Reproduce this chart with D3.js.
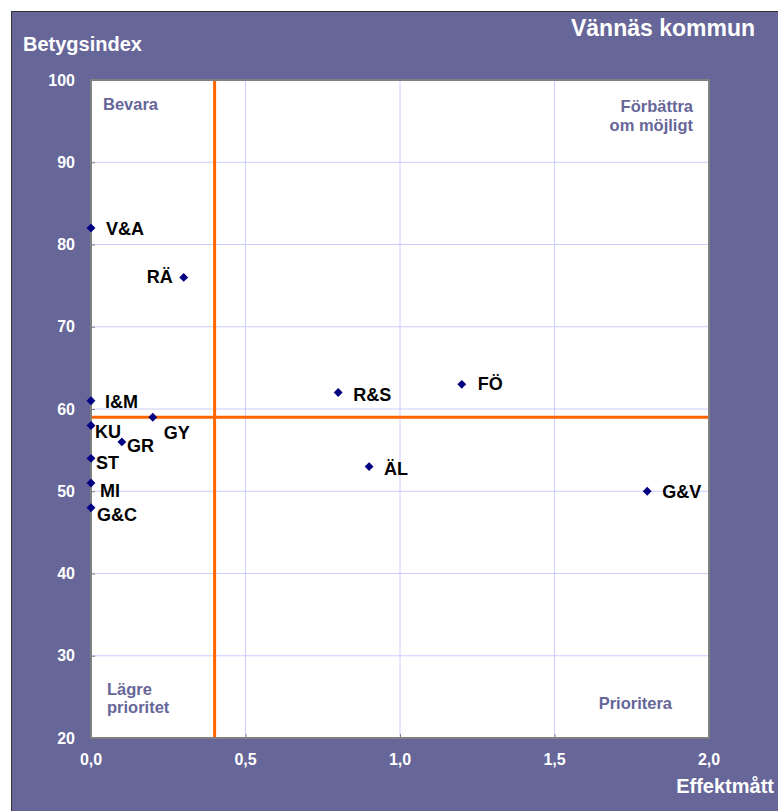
<!DOCTYPE html>
<html>
<head>
<meta charset="utf-8">
<script src="https://cdn.jsdelivr.net/npm/d3@7"></script>
<style>
  body { margin: 0; background: #fff; }
  text { font-family: "Liberation Sans", Arial, sans-serif; font-weight: bold; }
</style>
</head>
<body>
<svg id="chart" width="778" height="811"></svg>
<script>
// data
let labels = ['V&A', 'RÄ', 'I&M', 'KU', 'GY', 'GR', 'ST', 'MI', 'G&C', 'R&S', 'FÖ', 'ÄL', 'G&V'];
let effekt = [0, 0.3, 0, 0, 0.2, 0.1, 0, 0, 0, 0.8, 1.2, 0.9, 1.8];
let betyg = [82, 76, 61, 58, 59, 56, 54, 51, 48, 62, 63, 53, 50];
let xTicks = [0, 0.5, 1.0, 1.5, 2.0];
let yTicks = [20, 30, 40, 50, 60, 70, 80, 90, 100];
let xCut = 0.4;
let yCut = 59;

// label offsets (dx, dy) relative to marker
let offsets = {
  'V&A': [15, 7], 'RÄ': [-11, 6, 'end'], 'I&M': [14, 7], 'KU': [4, 13],
  'GY': [11, 22], 'GR': [5, 10], 'ST': [5, 11], 'MI': [9, 14], 'G&C': [6, 13],
  'R&S': [15, 8], 'FÖ': [16, 6], 'ÄL': [15, 8], 'G&V': [15, 7]
};

let svg = d3.select('#chart');
let purple = '#666699';

svg.append('rect')
  .attr('x', 11).attr('y', 11).attr('width', 767).attr('height', 800)
  .attr('fill', purple);
svg.append('path')
  .attr('d', 'M11.5,811 V11.5 H778')
  .attr('fill', 'none').attr('stroke', '#333').attr('stroke-width', 1);

let pLeft = 91, pRight = 709, pTop = 80, pBottom = 738;

let x = d3.scaleLinear().domain([0, 2]).range([pLeft, pRight]);
let y = d3.scaleLinear().domain([20, 100]).range([pBottom, pTop]);

svg.append('rect')
  .attr('x', pLeft).attr('y', pTop)
  .attr('width', pRight - pLeft).attr('height', pBottom - pTop)
  .attr('fill', '#fff');

//======= gridlines =======//
svg.append('g')
  .selectAll('line')
  .data(xTicks.slice(1, -1))
  .enter().append('line')
  .attr('x1', d => x(d)).attr('x2', d => x(d))
  .attr('y1', pTop).attr('y2', pBottom)
  .attr('stroke', '#ccccff').attr('stroke-width', 1);

svg.append('g')
  .selectAll('line')
  .data(yTicks.slice(1, -1))
  .enter().append('line')
  .attr('x1', pLeft).attr('x2', pRight)
  .attr('y1', d => y(d)).attr('y2', d => y(d))
  .attr('stroke', '#ccccff').attr('stroke-width', 1);

// small ticks
svg.append('g')
  .attr('transform', 'translate(' + pLeft + ',0)')
  .call(d3.axisRight(y).tickValues(yTicks).tickSize(4).tickFormat(''))
  .call(g => g.select('.domain').remove())
  .selectAll('line').attr('stroke', '#808080');

svg.append('g')
  .attr('transform', 'translate(0,' + pBottom + ')')
  .call(d3.axisTop(x).tickValues(xTicks).tickSize(4).tickFormat(''))
  .call(g => g.select('.domain').remove())
  .selectAll('line').attr('stroke', '#808080');

//======= quadrant lines =======//
svg.append('line')
  .attr('x1', x(xCut)).attr('x2', x(xCut))
  .attr('y1', pTop).attr('y2', pBottom)
  .attr('stroke', '#ff6600').attr('stroke-width', 3);
svg.append('line')
  .attr('x1', pLeft).attr('x2', pRight)
  .attr('y1', y(yCut)).attr('y2', y(yCut))
  .attr('stroke', '#ff6600').attr('stroke-width', 3);

svg.append('rect')
  .attr('x', pLeft).attr('y', pTop)
  .attr('width', pRight - pLeft).attr('height', pBottom - pTop)
  .attr('fill', 'none').attr('stroke', '#808080').attr('stroke-width', 2);

//======= tick labels =======//
let fmt = d => d3.format('.1f')(d).replace('.', ',');

svg.append('g')
  .selectAll('text')
  .data(yTicks)
  .enter().append('text')
  .attr('x', 75).attr('y', d => y(d) + 5.5)
  .attr('text-anchor', 'end')
  .attr('fill', '#fff').attr('font-size', 16)
  .text(d => d);

svg.append('g')
  .selectAll('text')
  .data(xTicks)
  .enter().append('text')
  .attr('x', d => x(d)).attr('y', 765)
  .attr('text-anchor', 'middle')
  .attr('fill', '#fff').attr('font-size', 16)
  .text(fmt);

svg.append('text').attr('x', 23).attr('y', 51)
  .attr('fill', '#fff').attr('font-size', 20).text('Betygsindex');
svg.append('text').attr('x', 774).attr('y', 793)
  .attr('text-anchor', 'end')
  .attr('fill', '#fff').attr('font-size', 20).text('Effektmått');
svg.append('text').attr('x', 755).attr('y', 36)
  .attr('text-anchor', 'end')
  .attr('fill', '#fff').attr('font-size', 23).text('Vännäs kommun');

//======= quadrant names =======//
let quad = svg.append('g').attr('fill', purple).attr('font-size', 16.5);
quad.append('text').attr('x', 103).attr('y', 110).text('Bevara');
quad.append('text').attr('x', 693).attr('y', 112).attr('text-anchor', 'end').text('Förbättra');
quad.append('text').attr('x', 693).attr('y', 131).attr('text-anchor', 'end').text('om möjligt');
quad.append('text').attr('x', 107).attr('y', 695).text('Lägre');
quad.append('text').attr('x', 107).attr('y', 713).text('prioritet');
quad.append('text').attr('x', 672).attr('y', 709).attr('text-anchor', 'end').text('Prioritera');

//======= points =======//
let pts = labels.map((l, i) => ({ label: l, ex: effekt[i], bi: betyg[i] }));

let pg = svg.append('g');
pg.selectAll('path')
  .data(pts)
  .enter().append('path')
  .attr('d', d3.symbol().type(d3.symbolDiamond2).size(50))
  .attr('transform', d => 'translate(' + x(d.ex) + ',' + y(d.bi) + ')')
  .attr('fill', '#000080');

pg.selectAll('text')
  .data(pts)
  .enter().append('text')
  .attr('x', d => x(d.ex) + offsets[d.label][0])
  .attr('y', d => y(d.bi) + offsets[d.label][1])
  .attr('text-anchor', d => offsets[d.label][2] || 'start')
  .attr('font-size', 18)
  .attr('fill', '#000')
  .text(d => d.label);
</script>
</body>
</html>
